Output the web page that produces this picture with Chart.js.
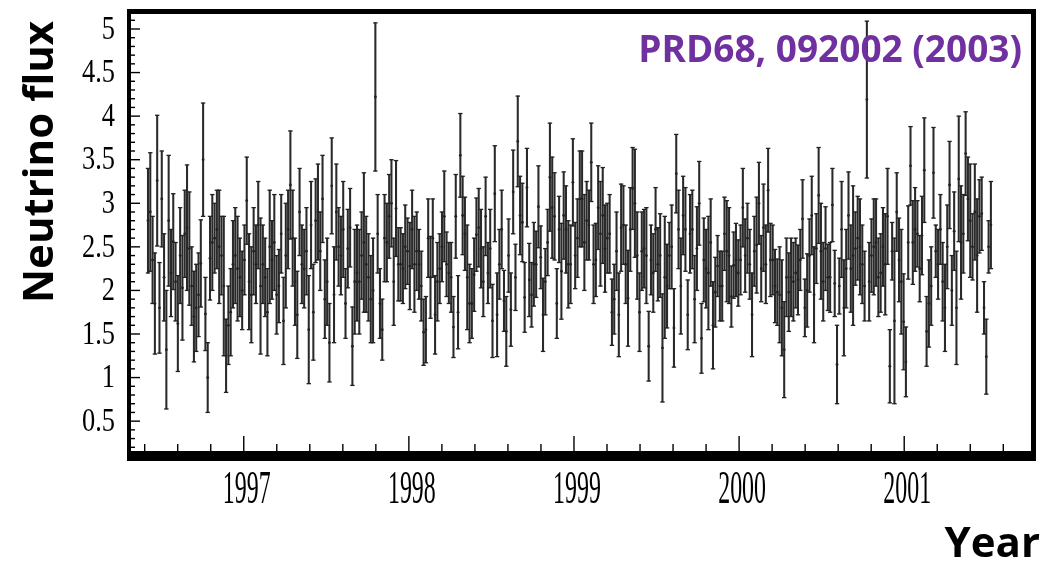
<!DOCTYPE html>
<html>
<head>
<meta charset="utf-8">
<title>Neutrino flux vs year</title>
<script src="https://cdn.jsdelivr.net/npm/chart.js@4.4.1/dist/chart.umd.min.js"></script>
<style>
    html, body { margin: 0; padding: 0; background: #fff; }
    #wrap { width: 1054px; height: 563px; }
</style>
</head>
<body>
<div id="wrap"><canvas id="flux-chart" width="1054" height="563"></canvas></div>
<script>
// time bins run evenly from the first to the last bin of the data taking
const firstBin = 1996.42;
const lastBin = 2001.525;

const yearLabels = ["1997", "1998", "1999", "2000", "2001"];
const fluxLabels = ["0.5", "1", "1.5", "2", "2.5", "3", "3.5", "4", "4.5", "5"];
const citation = "PRD68, 092002 (2003)";

// flux per bin
const flux = [
    2.80, 2.90, 2.35, 1.85, 3.26, 1.80, 3.05, 2.15, 1.32, 2.80,
    2.20, 2.56, 2.10, 1.62, 2.40, 2.03, 2.65, 2.72, 2.48, 2.05,
    1.70, 1.80, 1.95, 2.31, 3.50, 1.73, 1.00, 2.37, 2.55, 2.60,
    2.70, 2.50, 2.40, 2.05, 1.25, 1.60, 1.75, 2.30, 2.40, 2.25,
    2.15, 2.00, 2.35, 3.03, 2.10, 1.95, 2.45, 2.30, 2.75,
    2.05, 2.30, 2.15, 1.75, 2.50, 2.35, 2.55, 1.95, 2.05, 2.65,
    1.65, 2.40, 2.70, 3.21, 2.60, 2.10, 1.72, 2.90, 2.30, 2.25,
    2.45, 1.55, 2.75, 1.75, 2.80, 2.90, 2.45, 3.05, 1.90, 2.10,
    1.40, 3.20, 1.95, 2.90, 2.50, 2.40, 2.70, 1.85, 2.48, 2.72,
    1.36, 2.10, 2.20, 2.10, 2.40, 2.55, 2.30, 2.15, 1.90, 2.00,
    4.22, 2.65, 1.85, 1.55, 2.60,
    2.55, 2.85, 3.00, 2.10, 2.94, 2.30, 2.30, 2.25, 2.50, 2.45,
    2.28, 2.70, 2.30, 2.45, 2.30, 2.05, 1.52, 1.55, 2.60, 2.15,
    2.60, 1.72, 2.10, 2.25, 2.50, 2.85, 2.30, 2.20, 2.15, 1.58,
    2.85, 1.75, 3.55, 2.86, 2.65, 2.15, 1.85, 1.85, 2.18, 2.64,
    2.72, 2.48, 2.10, 2.85, 2.20, 2.48, 1.65, 3.11, 1.72, 2.30,
    2.70, 1.88, 1.53, 2.40,
    1.78, 3.13, 2.15, 3.71, 2.86, 2.78, 1.92, 3.18, 2.12, 1.95,
    2.30, 2.30, 2.96, 2.38, 1.72, 2.10, 2.55, 3.30, 2.95, 2.85,
    1.85, 2.70, 2.22, 2.86, 2.70, 2.30, 2.30, 3.24, 2.40, 2.60,
    3.05, 3.05, 2.55, 2.80, 2.75, 3.47, 2.30, 2.35, 2.95, 2.65,
    2.86, 2.48, 2.60, 2.65, 1.75, 1.90, 2.45, 1.72, 2.72, 2.75,
    2.30, 1.91, 2.70, 3.17,
    3.00, 2.40, 1.75, 2.45, 2.48, 2.40, 1.36, 2.35, 2.20, 2.70,
    2.30, 2.40, 1.34, 2.15, 2.05, 2.40, 2.50, 1.57, 3.34, 2.70,
    2.05, 2.86, 2.70, 1.72, 2.65, 2.70, 1.90, 2.48, 3.00, 1.45,
    2.35, 2.25, 2.20, 2.55, 1.60, 1.98, 2.28, 2.05, 2.05, 2.65,
    2.45, 2.40, 1.93, 2.29, 2.35, 2.20, 2.35, 2.95, 2.40, 2.60,
    2.30, 1.72, 2.45,
    2.52, 3.00, 2.25, 2.72, 2.30, 3.15, 2.35, 2.35, 2.05, 1.98,
    1.95, 1.80, 1.32, 2.15, 1.98, 2.15, 2.10, 2.20, 2.12, 2.35,
    2.82, 1.80, 2.00, 2.40, 2.86, 1.95, 2.48, 3.09, 2.45, 2.10,
    2.48, 2.15, 2.15, 2.98, 2.08, 1.15, 2.05, 2.70, 1.80, 2.25,
    2.86, 2.25, 2.40, 2.48, 2.60, 2.50, 2.30, 2.05, 4.19, 2.10,
    2.40, 2.50,
    2.55, 2.15, 2.20, 2.50, 2.30, 2.85, 1.13, 2.45, 1.65, 2.90,
    2.35, 2.10, 1.64, 1.18, 2.55, 3.43, 2.55, 2.70, 2.65, 2.25,
    2.63, 3.38, 1.53, 1.85, 2.05, 3.35, 2.45, 2.30, 2.70, 2.10,
    1.80, 2.50, 3.21, 2.00, 2.68, 1.80, 3.28, 2.55, 2.65, 3.57,
    3.05, 2.80, 2.50, 2.90, 2.40, 2.85, 2.88, 1.80, 1.24, 2.50,
    2.75
];

// half length of each error bar
const fluxErr = [
    0.60, 0.68, 0.50, 0.58, 0.75, 0.52, 0.55, 0.50, 0.68, 0.75,
    0.50, 0.55, 0.45, 0.55, 0.55, 0.60, 0.50, 0.72, 0.65, 0.45,
    0.52, 0.50, 0.48, 0.50, 0.65, 0.42, 0.40, 0.48, 0.55, 0.40,
    0.45, 0.65, 0.45, 0.80, 0.42, 0.45, 0.50, 0.50, 0.55, 0.60,
    0.45, 0.45, 0.40, 0.50, 0.55, 0.55, 0.50, 0.45, 0.50,
    0.78, 0.45, 0.45, 0.50, 0.65, 0.45, 0.55, 0.45, 0.42, 0.45,
    0.50, 0.60, 0.45, 0.62, 0.55, 0.50, 0.50, 0.50, 0.45, 0.45,
    0.50, 0.62, 0.50, 0.55, 0.48, 0.55, 0.45, 0.50, 0.45, 0.50,
    0.45, 0.55, 0.55, 0.55, 0.45, 0.45, 0.55, 0.40, 0.45, 0.45,
    0.45, 0.60, 0.55, 0.60, 0.50, 0.80, 0.55, 0.50, 0.50, 0.60,
    0.85, 0.45, 0.40, 0.35, 0.50,
    0.45, 0.48, 0.50, 0.50, 0.55, 0.42, 0.42, 0.40, 0.48, 0.38,
    0.50, 0.45, 0.55, 0.45, 0.40, 0.40, 0.38, 0.38, 0.45, 0.47,
    0.45, 0.45, 0.45, 0.40, 0.40, 0.52, 0.37, 0.35, 0.40, 0.35,
    0.48, 0.42, 0.48, 0.45, 0.42, 0.60, 0.45, 0.40, 0.42, 0.42,
    0.45, 0.45, 0.40, 0.45, 0.35, 0.45, 0.42, 0.55, 0.48, 0.40,
    0.45, 0.35, 0.40, 0.42,
    0.42, 0.48, 0.38, 0.52, 0.45, 0.45, 0.40, 0.45, 0.42, 0.37,
    0.48, 0.38, 0.47, 0.36, 0.42, 0.38, 0.38, 0.62, 0.58, 0.50,
    0.40, 0.38, 0.55, 0.50, 0.50, 0.50, 0.45, 0.50, 0.38, 0.45,
    0.55, 0.55, 0.55, 0.45, 0.40, 0.45, 0.45, 0.42, 0.48, 0.60,
    0.55, 0.50, 0.40, 0.45, 0.38, 0.40, 0.45, 0.48, 0.50, 0.45,
    0.45, 0.55, 0.48, 0.47,
    0.62, 0.50, 0.45, 0.45, 0.45, 0.55, 0.40, 0.40, 0.45, 0.48,
    0.42, 0.48, 0.62, 0.70, 0.48, 0.38, 0.48, 0.45, 0.45, 0.45,
    0.55, 0.45, 0.48, 0.40, 0.45, 0.45, 0.50, 0.48, 0.48, 0.40,
    0.48, 0.45, 0.65, 0.50, 0.50, 0.40, 0.35, 0.40, 0.40, 0.42,
    0.58, 0.55, 0.35, 0.38, 0.42, 0.38, 0.40, 0.45, 0.42, 0.40,
    0.40, 0.48, 0.40,
    0.55, 0.47, 0.38, 0.50, 0.45, 0.48, 0.42, 0.40, 0.42, 0.38,
    0.55, 0.55, 0.55, 0.45, 0.45, 0.45, 0.45, 0.40, 0.40, 0.35,
    0.45, 0.33, 0.42, 0.42, 0.45, 0.55, 0.40, 0.55, 0.55, 0.45,
    0.48, 0.38, 0.40, 0.42, 0.38, 0.45, 0.32, 0.55, 0.55, 0.45,
    0.50, 0.50, 0.80, 0.42, 0.48, 0.55, 0.45, 0.40, 0.90, 0.45,
    0.42, 0.55,
    0.50, 0.45, 0.45, 0.45, 0.58, 0.55, 0.42, 0.33, 0.95, 0.45,
    0.48, 0.60, 0.55, 0.40, 0.42, 0.45, 0.48, 0.48, 0.38, 0.38,
    0.45, 0.60, 0.40, 0.50, 0.45, 0.52, 0.30, 0.40, 0.40, 0.45,
    0.50, 0.48, 0.50, 0.40, 0.45, 0.65, 0.72, 0.65, 0.45, 0.48,
    0.48, 0.65, 0.38, 0.55, 0.65, 0.42, 0.42, 0.30, 0.43, 0.30,
    0.50
];

const binStep = (lastBin - firstBin) / (flux.length - 1);
const binYears = flux.map((_, i) => firstBin + i * binStep);

const barData = flux.map((v, i) => ({ x: binYears[i], y: [v - fluxErr[i], v + fluxErr[i]] }));
const capData = flux.flatMap((v, i) => [
    { x: binYears[i], y: v + fluxErr[i] },
    { x: binYears[i], y: v - fluxErr[i] }
]);
const dotData = flux.map((v, i) => ({ x: binYears[i], y: v }));

const isWhole = v => Math.abs(v - Math.round(v)) < 1e-6;
const isHalf = v => Math.abs(v * 2 - Math.round(v * 2)) < 1e-6;

// box frame, inward ticks, squeezed serif labels and the titles
const frameAndText = {
    id: "frameAndText",
    afterDraw(chart) {
        const { ctx, chartArea: a, scales: { x, y } } = chart;
        ctx.save();
        ctx.strokeStyle = "#000";
        ctx.fillStyle = "#000";
        ctx.lineWidth = 1.4;

        x.ticks.forEach(t => {
            const px = x.getPixelForValue(t.value);
            ctx.beginPath();
            ctx.moveTo(px, a.bottom);
            ctx.lineTo(px, a.bottom - (isWhole(t.value) ? 20 : 12));
            ctx.stroke();
        });
        y.ticks.forEach(t => {
            const py = y.getPixelForValue(t.value);
            ctx.beginPath();
            ctx.moveTo(a.left, py);
            ctx.lineTo(a.left + (isHalf(t.value) ? 11 : 6), py);
            ctx.stroke();
        });

        ctx.fillRect(a.left - 2, a.top - 3, a.width + 5, 5);
        ctx.fillRect(a.left - 2, a.top - 3, 4, a.height + 8);
        ctx.fillRect(a.right - 2, a.top - 3, 5, a.height + 8);
        ctx.fillRect(a.left - 2, a.bottom - 5, a.width + 5, 10);

        ctx.font = '33px "Liberation Serif", "Times New Roman", serif';
        ctx.textAlign = "right";
        ctx.textBaseline = "middle";
        fluxLabels.forEach(lbl => {
            ctx.save();
            ctx.translate(a.left - 14, y.getPixelForValue(Number(lbl)) + 1);
            ctx.scale(0.8, 1);
            ctx.fillText(lbl, 0, 0);
            ctx.restore();
        });

        ctx.font = '46px "Liberation Serif", "Times New Roman", serif';
        ctx.textAlign = "center";
        ctx.textBaseline = "alphabetic";
        yearLabels.forEach(lbl => {
            ctx.save();
            ctx.translate(x.getPixelForValue(Number(lbl)) + 3, a.bottom + 47);
            ctx.scale(0.52, 1);
            ctx.fillText(lbl, 0, 0);
            ctx.restore();
        });

        ctx.font = 'bold 42px "Open Sans", "Noto Sans", sans-serif';
        ctx.save();
        ctx.translate(53, 162);
        ctx.rotate(-Math.PI / 2);
        ctx.textAlign = "center";
        ctx.fillText("Neutrino flux", 0, 0);
        ctx.restore();

        ctx.textAlign = "right";
        ctx.fillText("Year", 1040, 557);

        ctx.font = 'bold 37px "Open Sans", "Noto Sans", sans-serif';
        ctx.fillStyle = "#7030A0";
        ctx.fillText(citation, 1022, 62);
        ctx.restore();
    }
};

const fluxChart = new Chart(document.getElementById("flux-chart").getContext("2d"), {
    type: "scatter",
    data: {
        datasets: [
            {
                type: "bar",
                data: barData,
                backgroundColor: "#2a2a2a",
                borderWidth: 0,
                barThickness: 1.4,
                order: 3
            },
            {
                type: "scatter",
                data: capData,
                pointStyle: "line",
                pointRadius: 2.2,
                borderColor: "#222",
                borderWidth: 1.3,
                order: 2
            },
            {
                type: "scatter",
                data: dotData,
                pointStyle: "circle",
                pointRadius: 1.4,
                backgroundColor: "#222",
                borderWidth: 0,
                order: 1
            }
        ]
    },
    options: {
        responsive: false,
        animation: false,
        layout: { padding: { left: 121, right: 21, top: 12, bottom: 99 } },
        plugins: {
            legend: { display: false },
            tooltip: { enabled: false }
        },
        scales: {
            x: {
                type: "linear",
                min: 1996.305,
                max: 2001.78,
                offset: false,
                grid: { display: false },
                border: { display: false },
                ticks: { display: false, stepSize: 0.2, includeBounds: false }
            },
            y: {
                type: "linear",
                min: 0.1,
                max: 5.195,
                grid: { display: false },
                border: { display: false },
                ticks: { display: false, stepSize: 0.1, includeBounds: false }
            }
        }
    },
    plugins: [frameAndText]
});
</script>
</body>
</html>
